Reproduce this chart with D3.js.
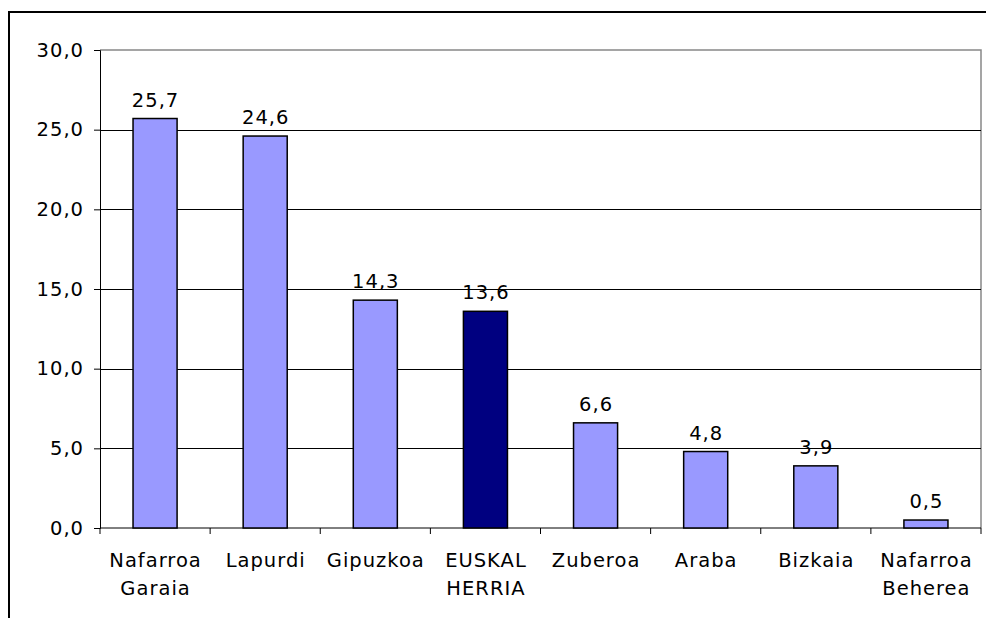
<!DOCTYPE html>
<html>
<head>
<meta charset="utf-8">
<script src="https://cdn.jsdelivr.net/npm/d3@7"></script>
<style>
  body { margin: 0; background: #fff; }
  text { font-family: "DejaVu Sans", Verdana, sans-serif; fill: #000; }
</style>
</head>
<body>
<div id="chart"></div>
<script>
// data
const regions = [["Nafarroa", "Garaia"], ["Lapurdi"], ["Gipuzkoa"], ["EUSKAL", "HERRIA"],
                 ["Zuberoa"], ["Araba"], ["Bizkaia"], ["Nafarroa", "Beherea"]];
const values = [25.7, 24.6, 14.3, 13.6, 6.6, 4.8, 3.9, 0.5];
const highlight = "EUSKAL HERRIA";
const yTicks = [0, 5, 10, 15, 20, 25, 30];

const width = 986, height = 618;
const margin = {top: 50, left: 100, right: 5, bottom: 90};
const fs = "19.5px", ls = 1;
const fmt = d => d.toFixed(1).replace(".", ",");

const svg = d3.select("#chart").append("svg")
    .attr("width", width)
    .attr("height", height);

// outer frame
svg.append("rect")
    .attr("x", 9).attr("y", 12)
    .attr("width", width + 20).attr("height", height + 20)
    .attr("fill", "none").attr("stroke", "#000").attr("stroke-width", 2);

const names = regions.map(d => d.join(" "));

const xScale = d3.scaleBand()
    .domain(names)
    .range([margin.left, width - margin.right])
    .paddingInner(0.6).paddingOuter(0.3);

const yScale = d3.scaleLinear()
    .domain([0, 30])
    .range([height - margin.bottom, margin.top]);

// plot area border (gray top/right)
svg.append("path")
    .attr("d", `M${margin.left},${margin.top}H${width - margin.right}V${height - margin.bottom}`)
    .attr("fill", "none").attr("stroke", "#888").attr("stroke-width", 1.5);

// gridlines
svg.append("g")
    .selectAll("line")
    .data(yTicks.filter(d => d > 0 && d < 30))
    .enter().append("line")
    .attr("x1", margin.left).attr("x2", width - margin.right)
    .attr("y1", d => Math.round(yScale(d)) + 0.5).attr("y2", d => Math.round(yScale(d)) + 0.5)
    .attr("stroke", "#000");

// y axis
const yAxis = svg.append("g")
    .attr("transform", `translate(${margin.left},0)`)
    .call(d3.axisLeft(yScale).tickValues(yTicks).tickFormat(fmt).tickSize(6).tickPadding(10));
yAxis.selectAll("text").style("font-size", fs).style("letter-spacing", ls + "px");
yAxis.selectAll("path,line").attr("stroke", "#000");

// x axis with boundary ticks
const bounds = d3.range(names.length + 1).map(i => margin.left + i * (width - margin.right - margin.left) / names.length);
const xAxis = svg.append("g");
xAxis.append("line")
    .attr("x1", margin.left).attr("x2", width - margin.right)
    .attr("y1", yScale(0)).attr("y2", yScale(0))
    .attr("stroke", "#000");
xAxis.selectAll("line.tick")
    .data(bounds)
    .enter().append("line")
    .attr("class", "tick")
    .attr("x1", d => d).attr("x2", d => d)
    .attr("y1", yScale(0)).attr("y2", yScale(0) + 6)
    .attr("stroke", "#000");

// bars
svg.selectAll("rect.bar")
    .data(values)
    .enter().append("rect")
    .attr("class", "bar")
    .attr("x", (d, i) => xScale(names[i]))
    .attr("y", d => yScale(d))
    .attr("width", xScale.bandwidth())
    .attr("height", d => yScale(0) - yScale(d))
    .attr("fill", (d, i) => names[i] === highlight ? "#000080" : "#9999ff")
    .attr("stroke", "#000").attr("stroke-width", 1.5);

// value labels
svg.selectAll("text.val")
    .data(values)
    .enter().append("text")
    .attr("class", "val")
    .attr("x", (d, i) => xScale(names[i]) + xScale.bandwidth() / 2 + ls / 2)
    .attr("y", d => yScale(d) - 12)
    .attr("text-anchor", "middle")
    .style("font-size", fs).style("letter-spacing", ls + "px")
    .text(fmt);

// category labels
const cat = svg.selectAll("text.cat")
    .data(regions)
    .enter().append("text")
    .attr("class", "cat")
    .attr("x", (d, i) => xScale(names[i]) + xScale.bandwidth() / 2 + ls / 2)
    .attr("y", yScale(0) + 39)
    .attr("text-anchor", "middle")
    .style("font-size", fs).style("letter-spacing", ls + "px");
cat.selectAll("tspan")
    .data(d => d)
    .enter().append("tspan")
    .attr("x", function() { return this.parentNode.getAttribute("x"); })
    .attr("dy", (d, i) => i === 0 ? 0 : 28)
    .text(d => d);
</script>
</body>
</html>
